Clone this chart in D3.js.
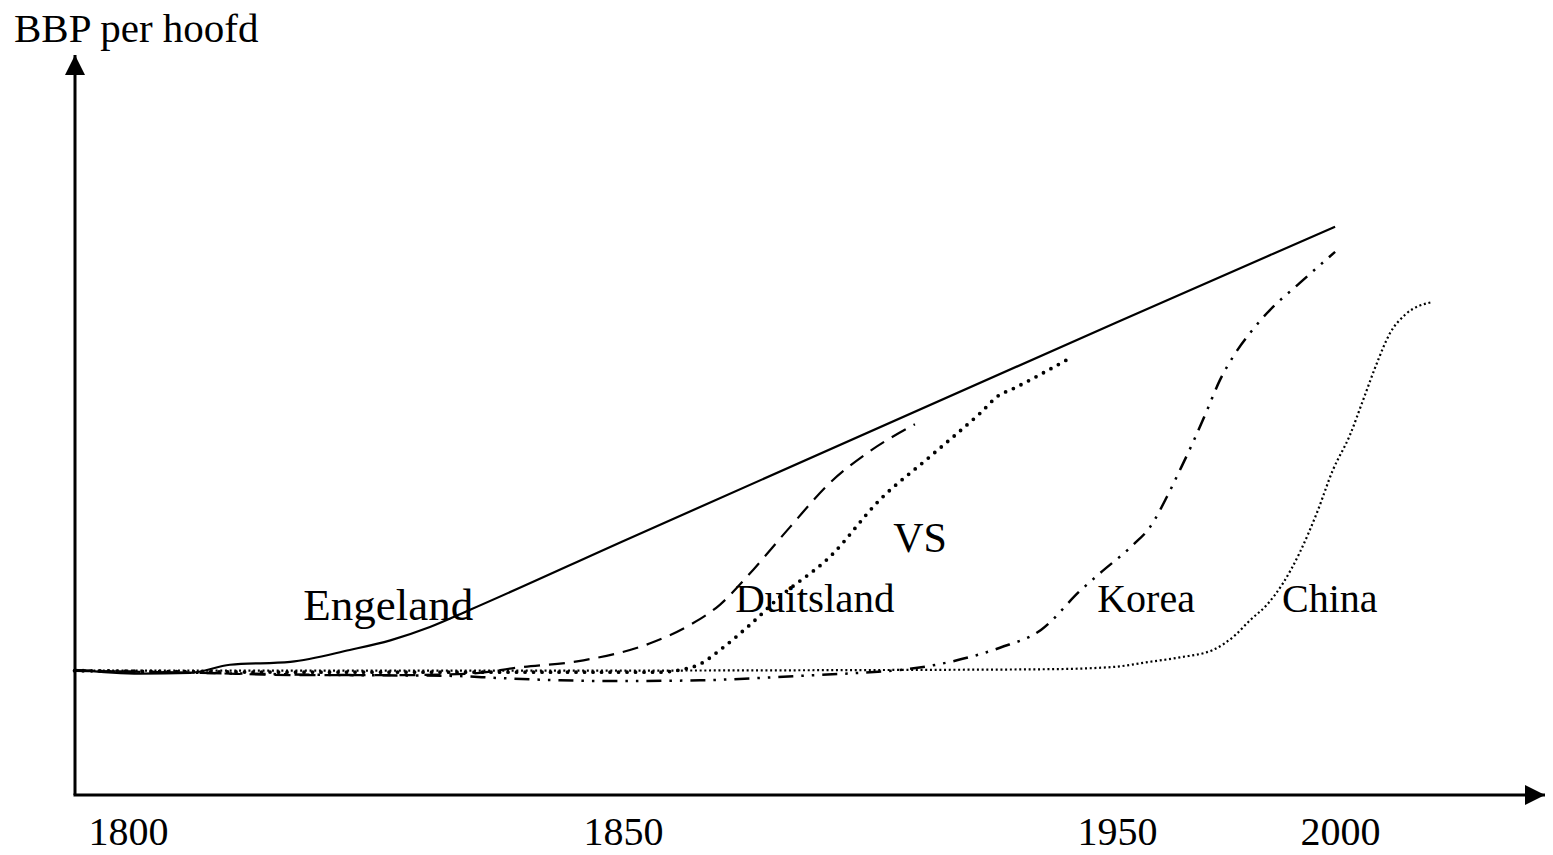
<html>
<head>
  <style>
  body {
    margin: 0;
    background: #fff;
  }
  svg text {
    font-family: "Liberation Serif", "Times New Roman", serif;
    fill: #000;
  }
  </style>
</head>
<body>
  <div id="chart"></div>

  <script src="https://d3js.org/d3.v7.min.js"></script>
  <script>
  'use strict';

  var width = 1553,
      height = 855;

  // the time axis is schematic: uneven spacing between the labelled years
  var tickYears = [1800, 1850, 1950, 2000];
  var tickPx = [128, 623, 1117, 1340];

  var engelandYears = [1794.6, 1801.2, 1806.3, 1810.3, 1816.4, 1822.4, 1826.5, 1830.5, 1834.5, 1850, 1950, 1998.9];
  var engelandValues = [16.9, 16.4, 16.5, 17.6, 18.0, 19.6, 20.9, 22.7, 25.0, 34.3, 63.9, 76.8];

  var duitslandYears = [1794.6, 1807.3, 1817.4, 1827.5, 1834.5, 1839.3, 1846.0, 1855.5, 1863.6, 1869.6, 1875.1, 1883.8, 1891.9, 1899.4, 1909.1];
  var duitslandValues = [16.8, 16.5, 16.2, 16.2, 16.4, 17.2, 18.2, 20.5, 23.0, 25.7, 29.5, 36.2, 42.2, 46.2, 50.1];

  var vsYears = [1794.6, 1817.4, 1837.6, 1857.5, 1861.5, 1865.6, 1870.2, 1875.7, 1881.8, 1891.9, 1902.0, 1912.1, 1922.3, 1926.3, 1928.3, 1934.4, 1940.9];
  var vsValues = [16.8, 16.6, 16.6, 16.6, 16.9, 17.7, 19.9, 23.0, 26.8, 32.2, 39.9, 45.7, 51.6, 54.1, 54.7, 56.8, 59.2];

  var koreaYears = [1794.6, 1807.3, 1822.4, 1832.5, 1837.6, 1843.6, 1849.7, 1865.6, 1885.8, 1900.0, 1906.1, 1917.6, 1926.3, 1934.6, 1942.7, 1946.6, 1953.6, 1957.4, 1961.2, 1964.1, 1967.0, 1970.2, 1973.1, 1976.0, 1979.8, 1983.6, 1991.0, 1998.9];
  var koreaValues = [16.8, 16.5, 16.2, 16.1, 15.8, 15.5, 15.4, 15.5, 16.1, 16.6, 16.9, 18.2, 19.9, 22.3, 27.7, 30.0, 33.8, 36.2, 40.3, 43.9, 47.6, 52.0, 56.1, 59.2, 62.4, 65.1, 69.2, 73.4];

  var chinaYears = [1794.6, 1837.6, 1906.1, 1936.4, 1949.2, 1957.4, 1964.1, 1971.5, 1976.5, 1979.8, 1983.6, 1987.2, 1991.0, 1994.8, 1998.4, 2002.2, 2005.2, 2008.3, 2011.2, 2014.6, 2020.6];
  var chinaValues = [16.8, 16.8, 16.9, 17.0, 17.3, 18.0, 18.6, 19.6, 21.6, 23.6, 25.7, 28.6, 32.8, 38.1, 43.9, 48.6, 53.4, 58.4, 62.4, 64.9, 66.6];

  var series = [
    { name: 'Engeland', years: engelandYears, values: engelandValues, dash: null, w: 2.2, cap: 'butt' },
    { name: 'Duitsland', years: duitslandYears, values: duitslandValues, dash: '16 9', w: 2.2, cap: 'butt' },
    { name: 'VS', years: vsYears, values: vsValues, dash: '0 8.5', w: 3.8, cap: 'round' },
    { name: 'Korea', years: koreaYears, values: koreaValues, dash: '15 8 2.5 8 2.5 8', w: 2.5, cap: 'butt' },
    { name: 'China', years: chinaYears, values: chinaValues, dash: '2 2.7', w: 2.2, cap: 'butt' }
  ];

  // where each series name is written (year / value of the text start)
  var labels = [
    { text: 'Engeland', year: 1817.7, value: 23.6, size: 45 },
    { text: 'Duitsland', year: 1872.7, value: 24.7, size: 41 },
    { text: 'VS', year: 1904.7, value: 32.8, size: 42 },
    { text: 'Korea', year: 1946.0, value: 24.7, size: 40 },
    { text: 'China', year: 1987.0, value: 24.7, size: 40 }
  ];

  var originX = 75,
      originY = 795;

  var x = d3.scaleLinear().domain(tickYears).range(tickPx);
  var y = d3.scaleLinear().domain([0, 100]).range([originY, 55]);

  var svg = d3.select('#chart').append('svg')
      .attr('width', width)
      .attr('height', height);

  var defs = svg.append('defs');
  defs.append('marker')
      .attr('id', 'arrow')
      .attr('viewBox', '0 0 20 20')
      .attr('refX', 20)
      .attr('refY', 10)
      .attr('markerWidth', 20)
      .attr('markerHeight', 20)
      .attr('markerUnits', 'userSpaceOnUse')
      .attr('orient', 'auto')
    .append('path')
      .attr('d', 'M0,0L20,10L0,20Z')
      .attr('fill', '#000');

  // axes with arrow heads
  svg.append('line')
      .attr('x1', originX).attr('y1', originY)
      .attr('x2', originX).attr('y2', y(100))
      .attr('stroke', '#000')
      .attr('stroke-width', 3)
      .attr('marker-end', 'url(#arrow)');

  svg.append('line')
      .attr('x1', originX - 1.5).attr('y1', originY)
      .attr('x2', 1545).attr('y2', originY)
      .attr('stroke', '#000')
      .attr('stroke-width', 3)
      .attr('marker-end', 'url(#arrow)');

  var xAxis = d3.axisBottom(x)
      .tickValues(tickYears)
      .tickSize(0)
      .tickPadding(0)
      .tickFormat(d3.format('d'));

  var gx = svg.append('g')
      .attr('transform', 'translate(0,' + originY + ')')
      .call(xAxis);
  gx.select('.domain').remove();
  gx.selectAll('text')
      .attr('dy', null)
      .attr('y', 50)
      .style('font-family', '"Liberation Serif", "Times New Roman", serif')
      .style('font-size', '40px')
      .attr('fill', '#000');

  svg.append('text')
      .attr('x', 14)
      .attr('y', 42)
      .style('font-size', '41px')
      .text('BBP per hoofd');

  var line = d3.line()
      .x(function(d) { return x(d[0]); })
      .y(function(d) { return y(d[1]); })
      .curve(d3.curveMonotoneX);

  svg.append('g').selectAll('path')
      .data(series)
      .enter().append('path')
      .attr('d', function(s) { return line(d3.zip(s.years, s.values)); })
      .attr('fill', 'none')
      .attr('stroke', '#000')
      .attr('stroke-width', function(s) { return s.w; })
      .attr('stroke-linecap', function(s) { return s.cap; })
      .attr('stroke-dasharray', function(s) { return s.dash; });

  svg.append('g').selectAll('text')
      .data(labels)
      .enter().append('text')
      .attr('x', function(d) { return x(d.year); })
      .attr('y', function(d) { return y(d.value); })
      .style('font-size', function(d) { return d.size + 'px'; })
      .text(function(d) { return d.text; });
  </script>
</body>
</html>
